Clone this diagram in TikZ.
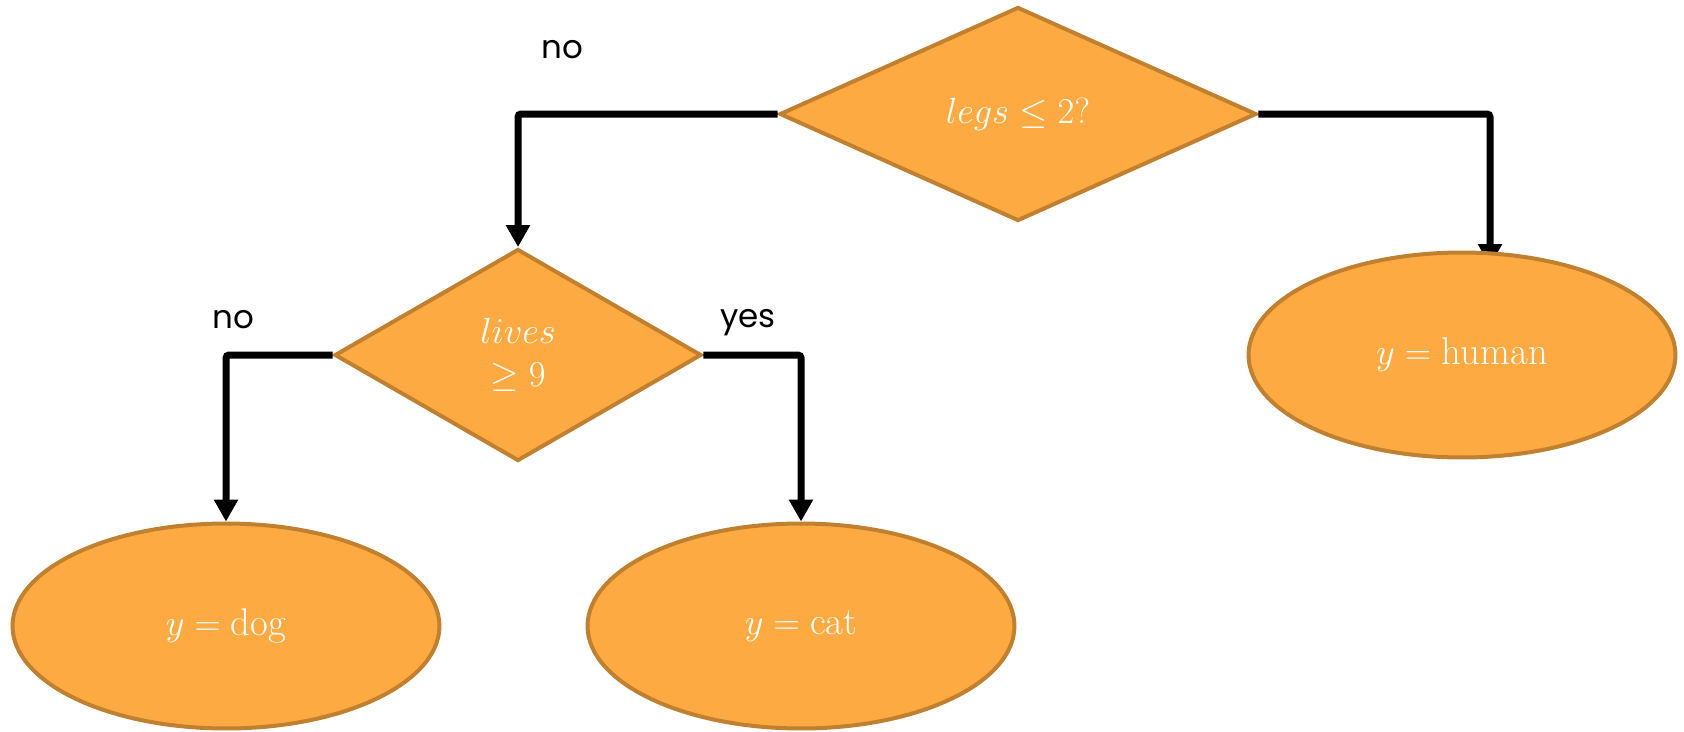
\documentclass[tikz,border=0pt]{standalone}
\usepackage{fontspec}
\newfontfamily\labelfont{Poppins}
\usetikzlibrary{shapes.geometric,arrows.meta}
\definecolor{boxfill}{HTML}{FEAA42}
\definecolor{boxline}{HTML}{C0802F}
\begin{document}
\begin{tikzpicture}[x=0.02cm,y=-0.02cm,
  decision/.style={diamond,draw=boxline,fill=boxfill,line width=0.08cm,
    inner sep=0pt,text=white,align=center,
    font=\fontsize{22}{24.5}\selectfont},
  leaf/.style={ellipse,draw=boxline,fill=boxfill,line width=0.08cm,
    inner sep=0pt,text=white,minimum width=8.54cm,minimum height=4.1cm,
    font=\fontsize{22}{26}\selectfont},
  conn/.style={line width=0.14cm,black,rounded corners=0.06cm,
    -{Triangle[width=0.46cm,length=0.44cm]}},
  edgelabel/.style={anchor=base,font=\labelfont\fontsize{18.5}{22}\selectfont}]
\useasboundingbox (0,0) rectangle (1684,731);

% decision nodes
\node[decision,minimum width=9.54cm,minimum height=4.28cm] (top) at (1018,114) {$legs \leq 2?$};
\node[decision,minimum width=7.34cm,minimum height=4.24cm] (lives) at (518,355) {$lives$\\$\geq 9$};

% free end of the branch to the right leaf, hidden under the ellipse
\coordinate (hend) at (1490,266);
\draw[conn] (top.east) -| (hend);

% leaves
\node[leaf] (human) at (1462,355) {$y = \mathrm{human}$};
\node[leaf] (dog) at (226,626) {$y = \mathrm{dog}$};
\node[leaf] (cat) at (801,626) {$y = \mathrm{cat}$};

% remaining branches
\draw[conn] (top.west) -| (lives.north);
\draw[conn] (lives.west) -| (dog.north);
\draw[conn] (lives.east) -| (cat.north);

% branch labels
\node[edgelabel] (lno1) at (562,58) {no};
\node[edgelabel] (lno2) at (233,328) {no};
\node[edgelabel] (lyes) at (748,327) {yes};
\end{tikzpicture}
\end{document}
